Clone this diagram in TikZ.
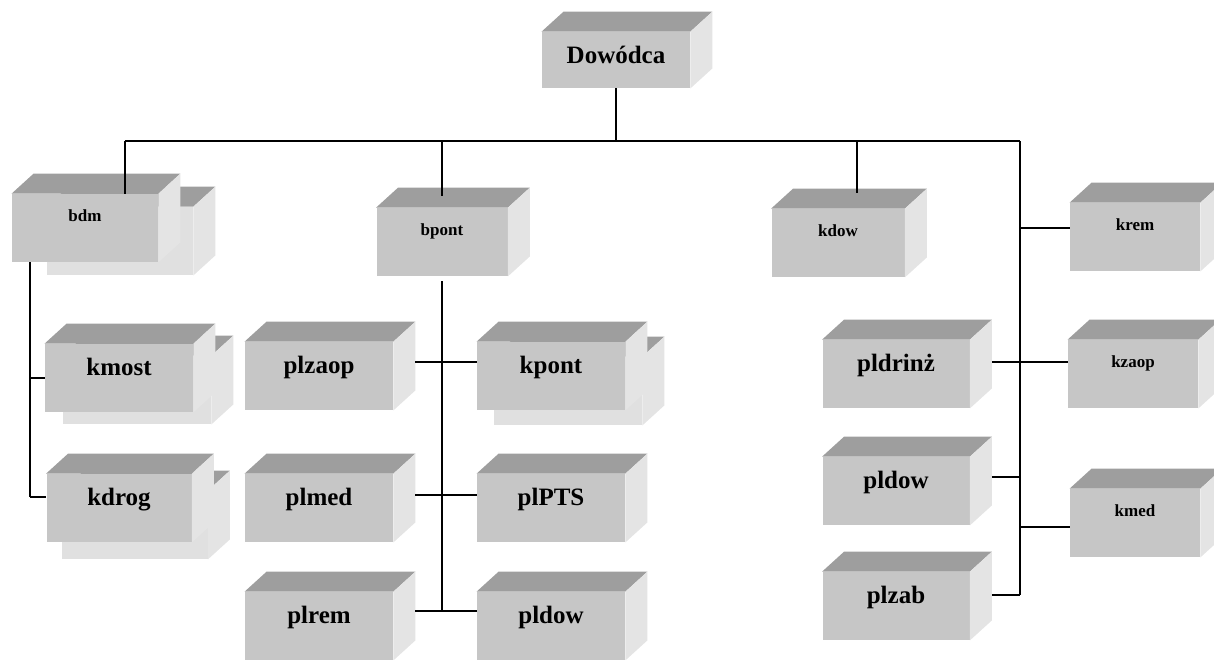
\documentclass[tikz,border=0pt]{standalone}
\usepackage{fontspec}
\setmainfont{Liberation Serif}
\usetikzlibrary{backgrounds}

\definecolor{przod}{HTML}{C6C6C6}
\definecolor{gora}{HTML}{9E9E9E}
\definecolor{bok}{HTML}{E4E4E4}

\tikzset{
  kostka/.style={fill=przod, inner sep=0pt, minimum height=34pt},
  duza/.style={kostka, minimum width=74pt, font=\fontsize{12.5}{14}\selectfont\bfseries, text height=9pt, text depth=12pt},
  mala/.style={kostka, minimum width=65pt, font=\fontsize{8.5}{10}\selectfont\bfseries, text height=6.5pt, text depth=13pt},
  linia/.style={line width=0.8pt},
}

% top and right faces of a box
\newcommand{\scianki}[1]{%
  \fill[gora] (#1.north west) -- ++(11pt,10pt) -- ([shift={(11pt,10pt)}]#1.north east) -- (#1.north east) -- cycle;
  \fill[bok] (#1.north east) -- ++(11pt,10pt) -- ([shift={(11pt,10pt)}]#1.south east) -- (#1.south east) -- cycle;
  \coordinate (#1-bok) at ([xshift=11pt]#1.east);
}

% second box behind a box
\newcommand{\podwojna}[3]{%
  \coordinate (#1-tnw) at ([shift={(#2,#3)}]#1.north west);
  \coordinate (#1-tne) at ([shift={(#2,#3)}]#1.north east);
  \coordinate (#1-tse) at ([shift={(#2,#3)}]#1.south east);
  \begin{scope}[on background layer]
    \fill[przod!55!white] (#1-tnw) rectangle (#1-tse);
    \fill[gora] (#1-tnw) -- ++(11pt,10pt) -- ([shift={(11pt,10pt)}]#1-tne) -- (#1-tne) -- cycle;
    \fill[bok] (#1-tne) -- ++(11pt,10pt) -- ([shift={(11pt,10pt)}]#1-tse) -- (#1-tse) -- cycle;
  \end{scope}
}

\begin{document}
\begin{tikzpicture}[x=0.5pt, y=-0.5pt]
  \useasboundingbox (0,0) rectangle (1214,659);

  % dowodca
  \node[duza, minimum height=28pt, text depth=6pt] (dowodca) at (616,60) {Dowódca};
  \scianki{dowodca}

  % pododdzialy
  \node[mala, minimum width=73pt] (bdm) at (85,228) {bdm};
  \scianki{bdm} \podwojna{bdm}{17.5pt}{-6.5pt}
  \node[mala, minimum width=65.5pt] (bpont) at (442,242) {bpont};
  \scianki{bpont}
  \node[mala, minimum width=66.5pt] (kdow) at (838,243) {kdow};
  \scianki{kdow}
  \node[mala] (krem) at (1135,237) {krem};
  \scianki{krem}

  % bdm
  \node[duza] (kmost) at (119,378) {kmost};
  \scianki{kmost} \podwojna{kmost}{9pt}{-6pt}
  \node[duza, minimum width=72.5pt] (kdrog) at (119,508) {kdrog};
  \scianki{kdrog} \podwojna{kdrog}{8pt}{-8.5pt}

  % bpont
  \node[duza] (plzaop) at (319,376) {plzaop};
  \scianki{plzaop}
  \node[duza] (kpont) at (551,376) {kpont};
  \scianki{kpont} \podwojna{kpont}{8.5pt}{-7.5pt}
  \node[duza] (plmed) at (319,508) {plmed};
  \scianki{plmed}
  \node[duza] (plPTS) at (551,508) {plPTS};
  \scianki{plPTS}
  \node[duza] (plrem) at (319,626) {plrem};
  \scianki{plrem}
  \node[duza] (pldowb) at (551,626) {pldow};
  \scianki{pldowb}

  % prawa strona
  \node[duza, minimum width=73.5pt] (pldrinz) at (896,374) {pldrinż};
  \scianki{pldrinz}
  \node[duza, minimum width=73.5pt] (pldow) at (896,491) {pldow};
  \scianki{pldow}
  \node[duza, minimum width=73.5pt] (plzab) at (896,606) {plzab};
  \scianki{plzab}
  \node[mala] (kzaop) at (1133,374) {kzaop};
  \scianki{kzaop}
  \node[mala] (kmed) at (1135,523) {kmed};
  \scianki{kmed}

  % linie
  \coordinate (busL) at (125,141);
  \coordinate (busR) at (1020,141);
  \coordinate (nkdow) at (857,141);
  \coordinate (lewa) at (30,497);
  \coordinate (s1) at (442,362);
  \coordinate (s2) at (442,495);
  \coordinate (s3) at (442,611);
  \coordinate (r1) at (1020,228);
  \coordinate (r2) at (1020,362);
  \coordinate (r3) at (1020,477);
  \coordinate (r4) at (1020,527);
  \coordinate (r5) at (1020,595);

  \begin{scope}[linia]
    \draw (busL) -- (busR);
    \draw (dowodca.south) -- (dowodca.south |- busL);
    \draw (busL) -- (busL |- bdm.north);
    \draw[shorten >=6pt] (bpont.north |- busL) -- (bpont.north);
    \draw[shorten >=8pt] (nkdow) -- (nkdow |- kdow.north);

    \draw (bdm.south -| lewa) -- (lewa);
    \draw (kmost.west -| lewa) -- (kmost.west);
    \draw (lewa) -- (lewa -| kdrog.west);

    \draw[shorten <=2.5pt] (bpont.south) -- (s3);
    \draw (plzaop-bok |- s1) -- (kpont.west |- s1);
    \draw (plmed-bok |- s2) -- (plPTS.west |- s2);
    \draw (plrem-bok |- s3) -- (pldowb.west |- s3);

    \draw (busR) -- (r5);
    \draw (r1) -- (r1 -| krem.west);
    \draw (pldrinz-bok |- r2) -- (r2 -| kzaop.west);
    \draw (pldow-bok |- r3) -- (r3);
    \draw (r4) -- (r4 -| kmed.west);
    \draw (plzab-bok |- r5) -- (r5);
  \end{scope}
\end{tikzpicture}
\end{document}
